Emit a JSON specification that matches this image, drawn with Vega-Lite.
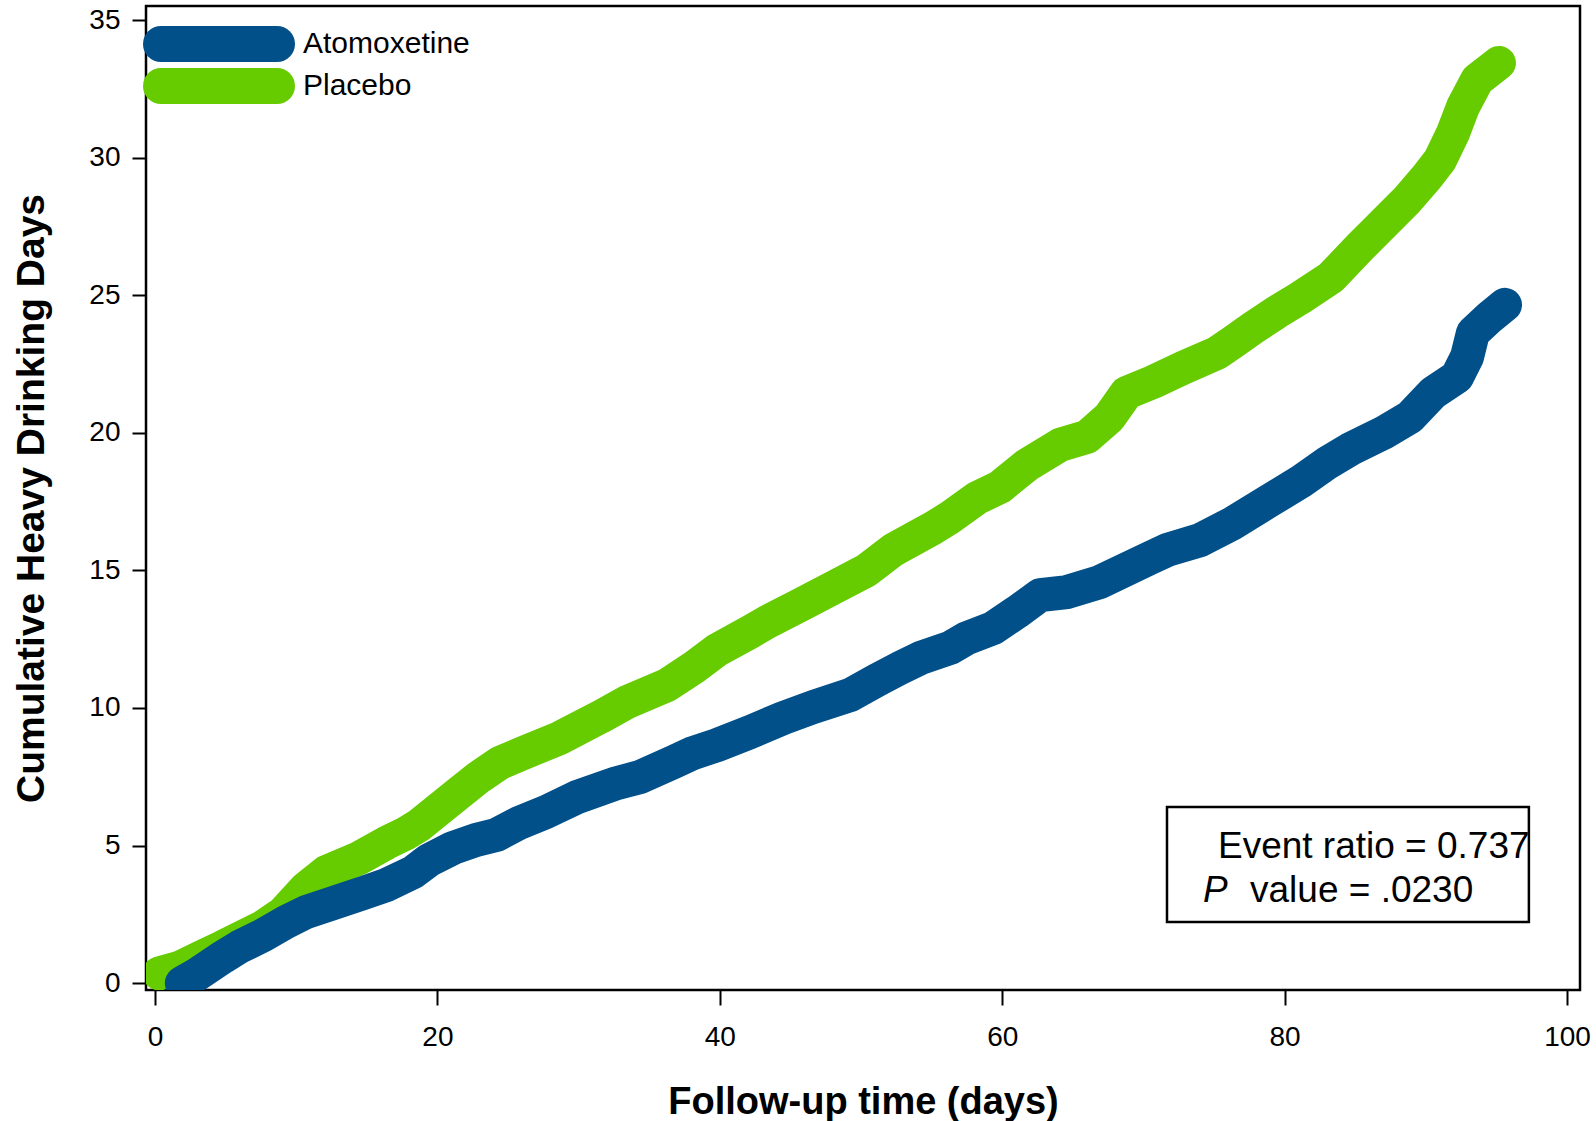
{
  "$schema": "https://vega.github.io/schema/vega-lite/v6.json",
  "width": 1434,
  "height": 984,
  "autosize": {"type": "none"},
  "padding": {"left": 146, "top": 6, "right": 16, "bottom": 131},
  "background": "white",
  "config": {
    "font": "Liberation Sans",
    "view": {"stroke": "#000", "strokeWidth": 2.5},
    "axis": {"grid": false, "domain": false, "tickColor": "#000", "tickWidth": 2, "labelColor": "#000", "labelFont": "Liberation Sans", "labelFontSize": 28, "titleFont": "Liberation Sans", "titleFontWeight": "bold", "titleColor": "#000"}
  },
  "datasets": {
    "curves": [
      {"series": "Placebo", "day": 0.3, "cum": 0.35},
      {"series": "Placebo", "day": 1.7, "cum": 0.55},
      {"series": "Placebo", "day": 3.6, "cum": 1.02},
      {"series": "Placebo", "day": 4.8, "cum": 1.31},
      {"series": "Placebo", "day": 7.65, "cum": 2.04},
      {"series": "Placebo", "day": 9.07, "cum": 2.54},
      {"series": "Placebo", "day": 10.69, "cum": 3.45},
      {"series": "Placebo", "day": 12.11, "cum": 4.03},
      {"series": "Placebo", "day": 14.45, "cum": 4.54},
      {"series": "Placebo", "day": 16.36, "cum": 5.09},
      {"series": "Placebo", "day": 17.78, "cum": 5.45},
      {"series": "Placebo", "day": 18.7, "cum": 5.74},
      {"series": "Placebo", "day": 21.53, "cum": 6.91},
      {"series": "Placebo", "day": 22.95, "cum": 7.49},
      {"series": "Placebo", "day": 24.43, "cum": 8.0},
      {"series": "Placebo", "day": 26.06, "cum": 8.36},
      {"series": "Placebo", "day": 28.68, "cum": 8.91},
      {"series": "Placebo", "day": 31.52, "cum": 9.67},
      {"series": "Placebo", "day": 33.43, "cum": 10.21},
      {"series": "Placebo", "day": 36.26, "cum": 10.83},
      {"series": "Placebo", "day": 38.1, "cum": 11.45},
      {"series": "Placebo", "day": 39.8, "cum": 12.1},
      {"series": "Placebo", "day": 42.14, "cum": 12.76},
      {"series": "Placebo", "day": 43.34, "cum": 13.12},
      {"series": "Placebo", "day": 45.68, "cum": 13.74},
      {"series": "Placebo", "day": 48.02, "cum": 14.36},
      {"series": "Placebo", "day": 50.42, "cum": 15.01},
      {"series": "Placebo", "day": 52.27, "cum": 15.74},
      {"series": "Placebo", "day": 55.1, "cum": 16.54},
      {"series": "Placebo", "day": 56.3, "cum": 16.92},
      {"series": "Placebo", "day": 58.22, "cum": 17.63},
      {"series": "Placebo", "day": 59.84, "cum": 18.03},
      {"series": "Placebo", "day": 61.76, "cum": 18.83},
      {"series": "Placebo", "day": 64.09, "cum": 19.56},
      {"series": "Placebo", "day": 66.0, "cum": 19.85},
      {"series": "Placebo", "day": 67.6, "cum": 20.57},
      {"series": "Placebo", "day": 68.8, "cum": 21.45},
      {"series": "Placebo", "day": 70.7, "cum": 21.85},
      {"series": "Placebo", "day": 72.8, "cum": 22.36},
      {"series": "Placebo", "day": 75.21, "cum": 22.9},
      {"series": "Placebo", "day": 76.35, "cum": 23.3},
      {"series": "Placebo", "day": 77.76, "cum": 23.81},
      {"series": "Placebo", "day": 79.46, "cum": 24.39},
      {"series": "Placebo", "day": 81.09, "cum": 24.9},
      {"series": "Placebo", "day": 83.3, "cum": 25.65},
      {"series": "Placebo", "day": 85.34, "cum": 26.75},
      {"series": "Placebo", "day": 86.76, "cum": 27.48},
      {"series": "Placebo", "day": 88.67, "cum": 28.46},
      {"series": "Placebo", "day": 90.08, "cum": 29.3},
      {"series": "Placebo", "day": 91.01, "cum": 29.92},
      {"series": "Placebo", "day": 91.93, "cum": 30.9},
      {"series": "Placebo", "day": 92.63, "cum": 31.84},
      {"series": "Placebo", "day": 93.63, "cum": 32.82},
      {"series": "Placebo", "day": 95.18, "cum": 33.44},
      {"series": "Atomoxetine", "day": 1.9, "cum": 0.0},
      {"series": "Atomoxetine", "day": 2.9, "cum": 0.29},
      {"series": "Atomoxetine", "day": 4.82, "cum": 0.95},
      {"series": "Atomoxetine", "day": 5.95, "cum": 1.31},
      {"series": "Atomoxetine", "day": 7.65, "cum": 1.74},
      {"series": "Atomoxetine", "day": 9.28, "cum": 2.22},
      {"series": "Atomoxetine", "day": 10.69, "cum": 2.58},
      {"series": "Atomoxetine", "day": 12.61, "cum": 2.91},
      {"series": "Atomoxetine", "day": 14.73, "cum": 3.27},
      {"series": "Atomoxetine", "day": 16.36, "cum": 3.56},
      {"series": "Atomoxetine", "day": 18.27, "cum": 4.03},
      {"series": "Atomoxetine", "day": 19.41, "cum": 4.47},
      {"series": "Atomoxetine", "day": 21.1, "cum": 4.91},
      {"series": "Atomoxetine", "day": 22.73, "cum": 5.2},
      {"series": "Atomoxetine", "day": 24.15, "cum": 5.38},
      {"series": "Atomoxetine", "day": 25.78, "cum": 5.82},
      {"series": "Atomoxetine", "day": 27.69, "cum": 6.22},
      {"series": "Atomoxetine", "day": 29.89, "cum": 6.76},
      {"series": "Atomoxetine", "day": 32.72, "cum": 7.27},
      {"series": "Atomoxetine", "day": 34.35, "cum": 7.49},
      {"series": "Atomoxetine", "day": 36.69, "cum": 8.03},
      {"series": "Atomoxetine", "day": 38.1, "cum": 8.36},
      {"series": "Atomoxetine", "day": 39.8, "cum": 8.65},
      {"series": "Atomoxetine", "day": 42.14, "cum": 9.12},
      {"series": "Atomoxetine", "day": 44.48, "cum": 9.63},
      {"series": "Atomoxetine", "day": 46.6, "cum": 10.03},
      {"series": "Atomoxetine", "day": 49.22, "cum": 10.47},
      {"series": "Atomoxetine", "day": 51.13, "cum": 11.01},
      {"series": "Atomoxetine", "day": 52.76, "cum": 11.45},
      {"series": "Atomoxetine", "day": 54.18, "cum": 11.81},
      {"series": "Atomoxetine", "day": 56.3, "cum": 12.18},
      {"series": "Atomoxetine", "day": 57.51, "cum": 12.54},
      {"series": "Atomoxetine", "day": 59.35, "cum": 12.9},
      {"series": "Atomoxetine", "day": 61.05, "cum": 13.49},
      {"series": "Atomoxetine", "day": 62.68, "cum": 14.1},
      {"series": "Atomoxetine", "day": 64.59, "cum": 14.21},
      {"series": "Atomoxetine", "day": 66.93, "cum": 14.58},
      {"series": "Atomoxetine", "day": 70.47, "cum": 15.45},
      {"series": "Atomoxetine", "day": 71.67, "cum": 15.74},
      {"series": "Atomoxetine", "day": 74.01, "cum": 16.1},
      {"series": "Atomoxetine", "day": 76.35, "cum": 16.72},
      {"series": "Atomoxetine", "day": 78.75, "cum": 17.48},
      {"series": "Atomoxetine", "day": 81.09, "cum": 18.21},
      {"series": "Atomoxetine", "day": 83.0, "cum": 18.9},
      {"series": "Atomoxetine", "day": 84.63, "cum": 19.4},
      {"series": "Atomoxetine", "day": 86.97, "cum": 19.99},
      {"series": "Atomoxetine", "day": 88.88, "cum": 20.57},
      {"series": "Atomoxetine", "day": 90.51, "cum": 21.45},
      {"series": "Atomoxetine", "day": 92.21, "cum": 22.03},
      {"series": "Atomoxetine", "day": 92.92, "cum": 22.76},
      {"series": "Atomoxetine", "day": 93.34, "cum": 23.63},
      {"series": "Atomoxetine", "day": 94.55, "cum": 24.21},
      {"series": "Atomoxetine", "day": 95.61, "cum": 24.65}
    ],
    "box": [{"x1": 71.67, "x2": 97.3, "y1": 2.22, "y2": 6.4}],
    "notes": [
      {"day": 75.28, "cum": 4.54, "label": "Event ratio = 0.737"},
      {"day": 77.55, "cum": 2.94, "label": "value = .0230"}
    ],
    "notesItalic": [
      {"day": 74.22, "cum": 2.94, "label": "P"}
    ]
  },
  "layer": [
    {
      "data": {"name": "curves"},
      "transform": [{"filter": "datum.series === 'Placebo'"}],
      "mark": {"type": "line", "strokeWidth": 34, "strokeCap": "round", "strokeJoin": "round", "clip": true},
      "encoding": {
        "x": {"field": "day", "type": "quantitative", "scale": {"domain": [-0.64, 100.92], "nice": false, "zero": false},
          "axis": {"values": [0, 20, 40, 60, 80, 100], "tickSize": 15, "labelPadding": 18, "title": "Follow-up time (days)", "titleFontSize": 38, "titlePadding": 32}},
        "y": {"field": "cum", "type": "quantitative", "scale": {"domain": [-0.25, 35.51], "nice": false, "zero": false},
          "axis": {"values": [0, 5, 10, 15, 20, 25, 30, 35], "tickSize": 14, "labelPadding": 12, "title": "Cumulative Heavy Drinking Days", "titleFontSize": 39, "titlePadding": 37}},
        "color": {"field": "series", "type": "nominal",
          "scale": {"domain": ["Atomoxetine", "Placebo"], "range": ["#02508A", "#66CC00"]},
          "legend": {"orient": "none", "legendX": -3, "legendY": 20, "title": null, "symbolType": "stroke", "symbolSize": 13456, "symbolStrokeWidth": 36, "clipHeight": 36, "labelFontSize": 30, "labelLimit": 500, "labelFont": "Liberation Sans", "labelColor": "#000", "labelOffset": 8, "rowPadding": 6, "padding": 0,
            "encode": {"symbols": {"update": {"strokeCap": {"value": "round"}}}}}
        }
      }
    },
    {
      "data": {"name": "curves"},
      "transform": [{"filter": "datum.series === 'Atomoxetine'"}],
      "mark": {"type": "line", "strokeWidth": 34, "strokeCap": "round", "strokeJoin": "round", "clip": true},
      "encoding": {
        "x": {"field": "day", "type": "quantitative"},
        "y": {"field": "cum", "type": "quantitative"},
        "color": {"field": "series", "type": "nominal"}
      }
    },
    {
      "data": {"name": "box"},
      "mark": {"type": "rect", "fill": "white", "stroke": "#000", "strokeWidth": 2.5},
      "encoding": {
        "x": {"field": "x1", "type": "quantitative"},
        "x2": {"field": "x2"},
        "y": {"field": "y1", "type": "quantitative"},
        "y2": {"field": "y2"}
      }
    },
    {
      "data": {"name": "notes"},
      "mark": {"type": "text", "align": "left", "baseline": "alphabetic", "fontSize": 37, "font": "Liberation Sans", "color": "#000"},
      "encoding": {
        "x": {"field": "day", "type": "quantitative"},
        "y": {"field": "cum", "type": "quantitative"},
        "text": {"field": "label"}
      }
    },
    {
      "data": {"name": "notesItalic"},
      "mark": {"type": "text", "align": "left", "baseline": "alphabetic", "fontSize": 37, "font": "Liberation Sans", "fontStyle": "italic", "color": "#000"},
      "encoding": {
        "x": {"field": "day", "type": "quantitative"},
        "y": {"field": "cum", "type": "quantitative"},
        "text": {"field": "label"}
      }
    }
  ]
}
